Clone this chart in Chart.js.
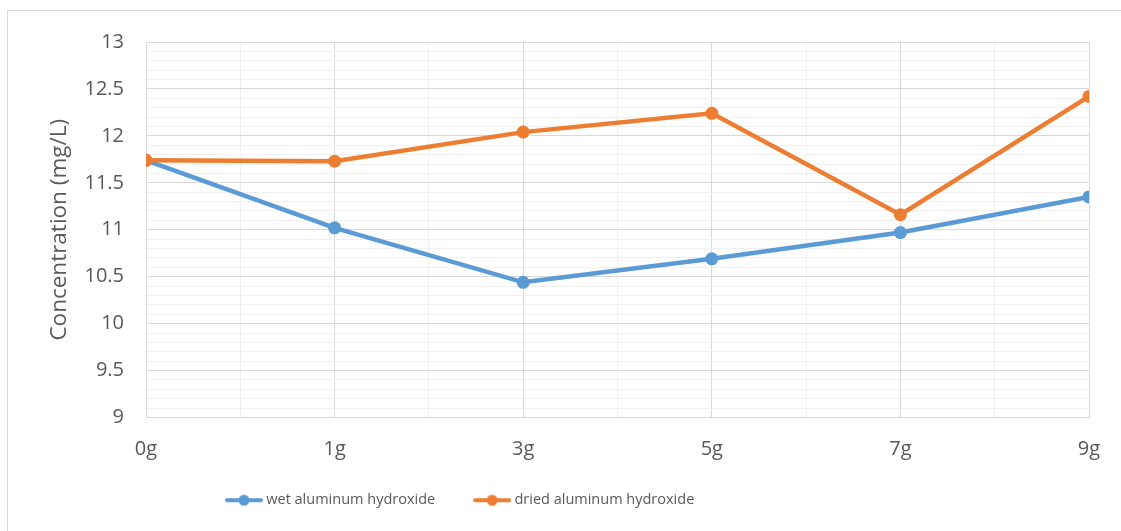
<!DOCTYPE html>
<html>
<head>
<meta charset="utf-8">
<title>Concentration (mg/L)</title>
<script src="https://cdn.jsdelivr.net/npm/chart.js@4.4.0/dist/chart.umd.min.js"></script>
<style>
    html, body { margin: 0; padding: 0; background: #fff; overflow: hidden; }
    #frame {
        position: absolute; left: 7px; top: 10px; width: 1300px; height: 700px;
        border-left: 1px solid #d9d9d9; border-top: 1px solid #d9d9d9;
    }
    #wrap { position: absolute; left: 0; top: 0; width: 1121px; height: 531px; }
</style>
</head>
<body>
<div id="frame"></div>
<div id="wrap"><canvas id="chart"></canvas></div>
<script>
// Dados do gráfico
const categories = ['0g', '1g', '3g', '5g', '7g', '9g'];
const wetValues = [11.74, 11.02, 10.44, 10.69, 10.97, 11.35];
const driedValues = [11.74, 11.73, 12.04, 12.24, 11.16, 12.42];
const seriesNames = ['wet aluminum hydroxide', 'dried aluminum hydroxide'];
const seriesColors = ['#5b9bd5', '#ed7d31'];

Chart.defaults.font.family = "'Open Sans', sans-serif";
Chart.defaults.color = '#595959';

// Marcador da legenda (linha com ponto, estilo Excel)
function legendMarker(color) {
    const c = document.createElement('canvas');
    c.width = 38;
    c.height = 14;
    const g = c.getContext('2d');
    g.strokeStyle = color;
    g.lineWidth = 4;
    g.lineCap = 'round';
    g.beginPath();
    g.moveTo(2, 7);
    g.lineTo(36, 7);
    g.stroke();
    g.fillStyle = color;
    g.beginPath();
    g.arc(19, 7, 5.5, 0, Math.PI * 2);
    g.fill();
    return c;
}
const markers = seriesColors.map(legendMarker);

const isMajor = (v, step) => Math.abs(v / step - Math.round(v / step)) < 1e-6;

function toPoints(values) {
    return values.map((v, i) => ({ x: i, y: v }));
}

// Legenda deslocada (esquerda e para cima), como no original
const legendShift = {
    id: 'legendShift',
    afterLayout(chart) {
        const lg = chart.legend;
        if (!lg) return;
        const h = lg.bottom - lg.top;
        lg.left = 187;
        lg.top = 451;
        lg.bottom = 451 + h;
    }
};

const ctx = document.getElementById('chart').getContext('2d');
new Chart(ctx, {
    type: 'line',
    data: {
        datasets: [{
            label: seriesNames[0],
            data: toPoints(wetValues),
            borderColor: seriesColors[0],
            backgroundColor: seriesColors[0],
            borderWidth: 4.5,
            pointRadius: 6.5,
            pointBorderWidth: 0,
            tension: 0,
            order: 1
        }, {
            label: seriesNames[1],
            data: toPoints(driedValues),
            borderColor: seriesColors[1],
            backgroundColor: seriesColors[1],
            borderWidth: 4.5,
            pointRadius: 6.5,
            pointBorderWidth: 0,
            tension: 0,
            order: 0
        }]
    },
    plugins: [legendShift],
    options: {
        responsive: true,
        maintainAspectRatio: false,
        animation: false,
        layout: {
            padding: { top: 42, right: 32, left: 0, bottom: 1 }
        },
        plugins: {
            tooltip: { enabled: false },
            legend: {
                position: 'bottom',
                align: 'start',
                labels: {
                    usePointStyle: true,
                    pointStyleWidth: 30,
                    padding: 42,
                    font: { size: 14.5 },
                    color: '#595959',
                    sort: (a, b) => a.datasetIndex - b.datasetIndex,
                    generateLabels(chart) {
                        const items = Chart.defaults.plugins.legend.labels.generateLabels(chart);
                        items.forEach(item => { item.pointStyle = markers[item.datasetIndex]; });
                        return items;
                    }
                }
            }
        },
        scales: {
            x: {
                type: 'linear',
                min: 0,
                max: categories.length - 1,
                afterFit: s => { s.height = 46; },
                ticks: {
                    stepSize: 0.5,
                    autoSkip: false,
                    maxRotation: 0,
                    padding: 20,
                    font: { size: 20 },
                    callback: v => Number.isInteger(v) ? categories[v] : ''
                },
                grid: {
                    drawTicks: false,
                    color: c => isMajor(c.tick.value, 1) ? '#d9d9d9' : '#f0f0f0'
                },
                border: { color: '#d9d9d9' }
            },
            y: {
                min: 9,
                max: 13,
                afterFit: s => { s.width = 146; },
                ticks: {
                    stepSize: 0.1,
                    autoSkip: false,
                    padding: 22,
                    font: { size: 20 },
                    callback: v => isMajor(v, 0.5) ? String(v) : ''
                },
                grid: {
                    drawTicks: false,
                    color: c => isMajor(c.tick.value, 0.5) ? '#d9d9d9' : '#f0f0f0'
                },
                border: { color: '#d9d9d9' },
                title: {
                    display: true,
                    text: 'Concentration (mg/L)',
                    font: { size: 22.5 },
                    color: '#595959',
                    padding: { top: 46, bottom: 0 }
                }
            }
        }
    }
});
</script>
</body>
</html>
